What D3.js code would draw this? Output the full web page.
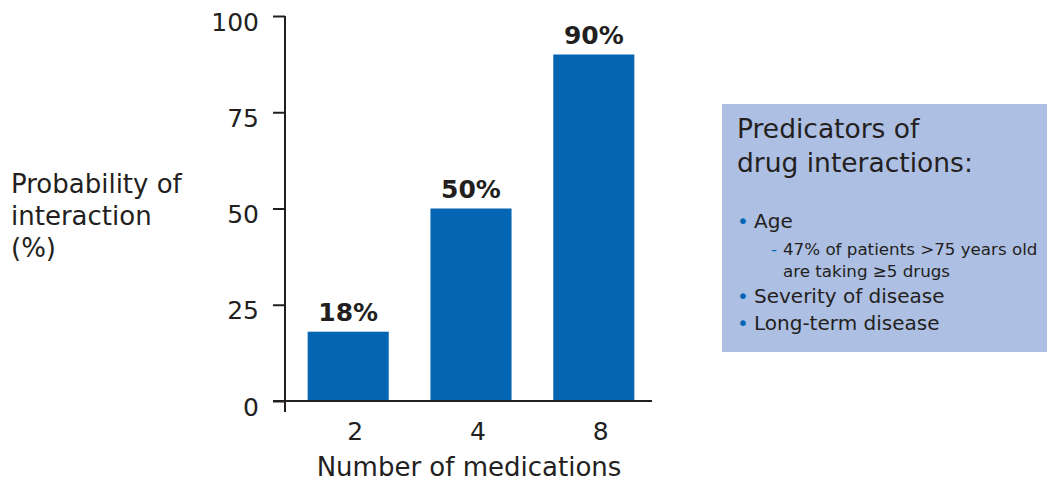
<!DOCTYPE html>
<html><head><meta charset="utf-8">
<script src="https://cdn.jsdelivr.net/npm/d3@7/dist/d3.min.js"></script>
<style>body{margin:0;background:#fff}svg{display:block}text{font-family:"DejaVu Sans",sans-serif;fill:#231f20}</style>
</head><body><svg id="c" width="1047" height="481"></svg>
<script>
const categories = ["2", "4", "8"];
const values = [18, 50, 90];
const valueLabels = ["18%", "50%", "90%"];
const yTicks = [0, 25, 50, 75, 100];
const xTitle = "Number of medications";
const yTitleLines = ["Probability of", "interaction", "(%)"];
const boxTitle = ["Predicators of", "drug interactions:"];
const boxItems = [
  {level: 1, text: "Age"},
  {level: 2, text: "47% of patients >75 years old"},
  {level: 3, text: "are taking \u22655 drugs"},
  {level: 1, text: "Severity of disease"},
  {level: 1, text: "Long-term disease"}
];

const svg = d3.select("#c");
const x = d3.scaleBand().domain(categories).range([288, 654]).paddingInner(0.34).paddingOuter(0.16);
const y = d3.scaleLinear().domain([0, 100]).range([401, 16]);

svg.selectAll("rect.bar").data(values).join("rect").attr("class","bar")
  .attr("x",(d,i)=>x(categories[i])).attr("width",x.bandwidth())
  .attr("y",d=>y(d)).attr("height",d=>y(0)-y(d)).attr("fill","#0465b2");

svg.selectAll("text.vl").data(values).join("text").attr("class","vl")
  .attr("x",(d,i)=>x(categories[i])+x.bandwidth()/2).attr("y",d=>y(d)-11)
  .attr("text-anchor","middle").attr("font-size",25).attr("font-weight","bold")
  .text((d,i)=>valueLabels[i]);

const yAxis = svg.append("g").attr("transform","translate(285,0)")
  .call(d3.axisLeft(y).tickValues(yTicks).tickSize(12).tickPadding(14));
yAxis.select(".domain").remove();
yAxis.selectAll("line").attr("stroke","#231f20").attr("stroke-width",2);
yAxis.selectAll("text").attr("font-size",25).attr("fill","#231f20").attr("dy","0.56em");
svg.append("line").attr("x1",285).attr("x2",285).attr("y1",16).attr("y2",412).attr("stroke","#231f20").attr("stroke-width",2);

const xAxis = svg.append("g").attr("transform","translate(0,401)")
  .call(d3.axisBottom(x).tickSize(0).tickPadding(21));
xAxis.select(".domain").remove();
xAxis.selectAll("text").attr("font-size",25).attr("fill","#231f20").attr("dy","0.71em").attr("dx",7);
svg.append("line").attr("x1",273).attr("x2",652).attr("y1",401).attr("y2",401).attr("stroke","#231f20").attr("stroke-width",2);

svg.append("text").attr("x",469).attr("y",476).attr("text-anchor","middle").attr("font-size",26).text(xTitle);

svg.selectAll("text.yt").data(yTitleLines).join("text").attr("class","yt")
  .attr("x",11).attr("y",(d,i)=>193+i*32).attr("font-size",26).text(d=>d);

svg.append("rect").attr("x",722).attr("y",104).attr("width",325).attr("height",248).attr("fill","#adbfe3");
svg.selectAll("text.bt").data(boxTitle).join("text").attr("class","bt")
  .attr("x",737).attr("y",(d,i)=>138+i*34).attr("font-size",26.5).text(d=>d);
const ys = [228, 255, 277, 303, 330];
boxItems.forEach((it,i)=>{
  if (it.level===1) {
    svg.append("text").attr("x",737).attr("y",ys[i]).attr("font-size",20).style("fill","#0465b2").text("\u2022");
    svg.append("text").attr("x",754).attr("y",ys[i]).attr("font-size",20).text(it.text);
  } else if (it.level===2) {
    svg.append("text").attr("x",771).attr("y",ys[i]).attr("font-size",16.7).style("fill","#0465b2").text("-");
    svg.append("text").attr("x",783).attr("y",ys[i]).attr("font-size",16.7).text(it.text);
  } else {
    svg.append("text").attr("x",783).attr("y",ys[i]).attr("font-size",16.7).text(it.text);
  }
});
</script></body></html>
